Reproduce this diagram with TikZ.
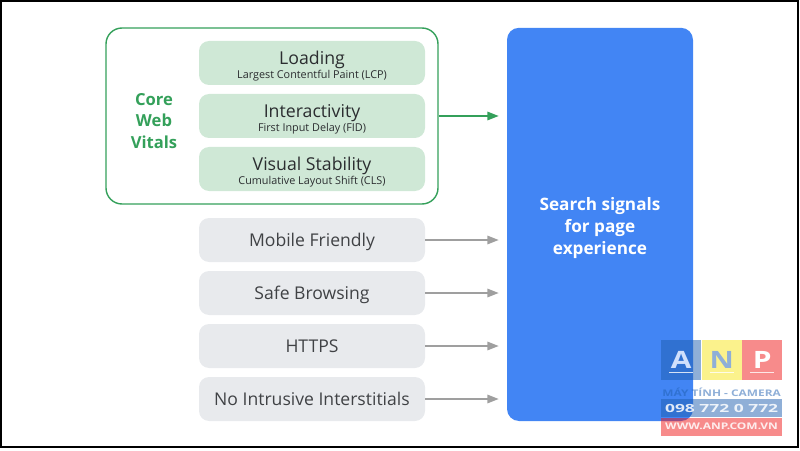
\documentclass[tikz,border=0pt]{standalone}
\usepackage{fontspec}
\setmainfont{Open Sans}
\usepackage{tikz}
\usetikzlibrary{arrows.meta, positioning, calc}
\definecolor{vitalgreen}{HTML}{34A05A}
\definecolor{softgreen}{HTML}{CFE8D6}
\definecolor{softgray}{HTML}{E8EAED}
\definecolor{signalblue}{HTML}{4285F4}
\definecolor{inktext}{HTML}{2B2D30}
\definecolor{anpyellow}{HTML}{FBF28C}
\definecolor{anpred}{HTML}{F01818}
\definecolor{anpblue}{HTML}{1F5FB0}

\begin{document}
\begin{tikzpicture}
            % Define styles
            \tikzstyle{metric} = [rectangle, rounded corners=0.25cm, fill=softgreen, minimum width=5.65cm, minimum height=1.1cm, inner sep=0pt, align=center, text=inktext]
            \tikzstyle{signal} = [rectangle, rounded corners=0.25cm, fill=softgray, minimum width=5.65cm, minimum height=1.1cm, inner sep=0pt, text height=9.5pt, text depth=0pt, font=\fontsize{12.5}{15}\selectfont, text=inktext!90]
            \tikzstyle{greenline} = [draw=vitalgreen, line width=1pt, -{Triangle[length=8pt, width=6pt]}]
            \tikzstyle{grayline} = [draw=gray!75, line width=1pt, -{Triangle[length=8pt, width=6pt]}]
            \tikzstyle{logobox} = [rectangle, inner sep=0pt, fill opacity=0.5, text opacity=1, text height=12pt, text depth=0pt, minimum width=1cm, minimum height=1cm, font=\bfseries\fontsize{17}{20}\selectfont]
            \tikzstyle{logoband} = [rectangle, inner sep=0pt, fill opacity=0.5, text opacity=0.85, minimum width=3.025cm, minimum height=0.45cm, text=white, font=\bfseries\fontsize{6.5}{8}\selectfont]
            \tikzstyle{logorule} = [line width=0.7pt, white, opacity=0.8]
            \newcommand{\metriclabel}[2]{\rule{0pt}{13.5pt}{\fontsize{12.6}{15}\selectfont #1}\\[-2pt]{\fontsize{7.7}{10}\selectfont #2}}

            % Page size
            \useasboundingbox (0,0) rectangle (20,11.25);
            \draw[black, line width=1pt] (0.03,0.07) rectangle (19.95,11.22);

            % Core Web Vitals frame
            \node[rectangle, draw=vitalgreen, line width=1pt, rounded corners=0.4cm, minimum width=8.3cm, minimum height=4.4cm] (vitals) at (6.8,8.35) {};
            \node[align=center, text=vitalgreen, font=\bfseries\fontsize{11.8}{15.4}\selectfont] (vitalname) at (3.85,8.225) {Core\\Web\\Vitals};
            \node[metric] (loading) at (7.8,9.675) {\metriclabel{Loading}{Largest Contentful Paint (LCP)}};
            \node[metric] (interact) at (7.8,8.35) {\metriclabel{Interactivity}{First Input Delay (FID)}};
            \node[metric] (visual) at (7.8,7.025) {\metriclabel{Visual Stability}{Cumulative Layout Shift (CLS)}};

            % Other signals
            \node[signal] (mobile) at (7.8,5.25) {Mobile Friendly};
            \node[signal] (safe) at (7.8,3.925) {Safe Browsing};
            \node[signal] (https) at (7.8,2.6) {HTTPS};
            \node[signal] (intrusive) at (7.8,1.275) {No Intrusive Interstitials};

            % Search signals box
            \node[rectangle, rounded corners=0.3cm, fill=signalblue, minimum width=4.65cm, minimum height=9.83cm, align=center, text=white, font=\fontsize{12.2}{15.7}\selectfont\bfseries] (search) at (15,5.64) {\rule{0pt}{14.5pt}Search signals\\for page\\experience};

            % Connections
            \draw[greenline] (vitals.east) -- ([xshift=-0.2cm]vitals.east -| search.west);
            \draw[grayline] (mobile.east) -- ([xshift=-0.2cm]mobile.east -| search.west);
            \draw[grayline] (safe.east) -- ([xshift=-0.2cm]safe.east -| search.west);
            \draw[grayline] (https.east) -- ([xshift=-0.2cm]https.east -| search.west);
            \draw[grayline] (intrusive.east) -- ([xshift=-0.2cm]intrusive.east -| search.west);

            % Watermark
            \node[logobox, fill=anpblue, text=white!75!signalblue] (logoA) at (17.03,2.25) {\scalebox{1.25}[1]{A}};
            \node[logobox, fill=anpyellow, fill opacity=1, text=anpblue!50, right=0pt of logoA] (logoN) {\scalebox{1.25}[1]{N}};
            \node[logobox, fill=anpred, text=white, right=0pt of logoN] (logoP) {\scalebox{1.25}[1]{P}};
            \draw[logorule] ([xshift=-0.3cm,yshift=0.2cm]logoA.south) -- ([xshift=0.3cm,yshift=0.2cm]logoA.south);
            \draw[logorule] ([xshift=-0.3cm,yshift=0.2cm]logoN.south) -- ([xshift=0.3cm,yshift=0.2cm]logoN.south);
            \draw[logorule] ([xshift=-0.3cm,yshift=0.2cm]logoP.south) -- ([xshift=0.3cm,yshift=0.2cm]logoP.south);
            \node[inner sep=0pt, text=anpblue, text opacity=0.5, font=\bfseries\fontsize{6.5}{8}\selectfont] (logoshop) at (18.04,1.45) {\scalebox{1.3}[1]{MÁY TÍNH - CAMERA}};
            \node[logoband, fill=anpblue, font=\bfseries\fontsize{8}{10}\selectfont] (logophone) at (18.04,1.05) {\scalebox{1.55}[1]{098 772 0 772}};
            \node[logoband, fill=anpred, below=0pt of logophone] (logoweb) {\scalebox{1.31}[1]{WWW.ANP.COM.VN}};
\end{tikzpicture}
\end{document}
